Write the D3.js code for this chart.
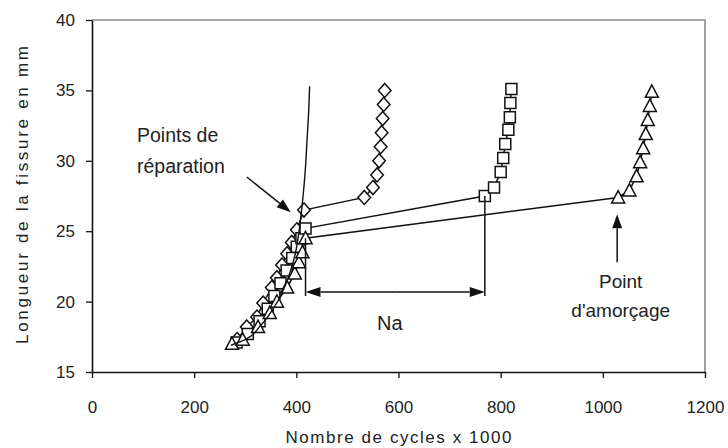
<!DOCTYPE html>
<html>
<head>
<meta charset="utf-8">
<script src="https://cdn.jsdelivr.net/npm/d3@7"></script>
<style>
  body { margin: 0; background: #fff; }
  text { font-family: "Liberation Sans", Arial, sans-serif; fill: #222; }
</style>
</head>
<body>
<svg id="chart" width="728" height="448"></svg>
<script>
// Axis ticks
const xTicks = [0, 200, 400, 600, 800, 1000, 1200];
const yTicks = [15, 20, 25, 30, 35, 40];

// Specimen 1 (diamonds): cycles x1000 and crack length in mm
const diamondCycles  = [284, 303, 323, 335, 352, 362, 372, 382, 391, 401, 415, 533, 550, 558, 562, 565, 567, 569, 571, 573];
const diamondLengths = [17.3, 18.2, 18.9, 19.9, 21.0, 21.7, 22.6, 23.4, 24.2, 25.1, 26.5, 27.4, 28.1, 29.0, 30.0, 31.0, 32.0, 33.0, 34.0, 35.0];

// Specimen 2 (squares)
const squareCycles  = [283, 305, 328, 344, 357, 369, 381, 392, 401, 410, 418, 769, 787, 800, 805, 809, 815, 818, 819, 821];
const squareLengths = [17.1, 17.7, 18.6, 19.5, 20.4, 21.3, 22.2, 23.1, 23.9, 24.5, 25.2, 27.5, 28.1, 29.2, 30.2, 31.2, 32.2, 33.1, 34.1, 35.1];

// Specimen 3 (triangles)
const triangleCycles  = [274, 295, 325, 348, 362, 382, 397, 405, 412, 418, 1030, 1052, 1066, 1073, 1079, 1084, 1088, 1092, 1096];
const triangleLengths = [17.0, 17.3, 18.2, 19.2, 20.0, 21.0, 22.0, 22.8, 23.5, 24.5, 27.4, 27.9, 28.9, 29.9, 30.9, 31.9, 32.9, 33.9, 34.9];

// Growth curve without repair
const curveCycles  = [272, 300, 330, 355, 373, 387, 398, 405, 410, 414, 418, 421, 424, 426];
const curveLengths = [16.9, 17.3, 18.3, 19.5, 20.7, 22.0, 23.4, 24.9, 26.4, 27.8, 29.6, 31.5, 33.4, 35.3];

const svg = d3.select("#chart");
const W = 728, H = 448;
const m = { left: 92, right: 23, top: 20, bottom: 76 };

const x = d3.scaleLinear().domain([0, 1200]).range([m.left, W - m.right]);
const y = d3.scaleLinear().domain([15, 40]).range([H - m.bottom, m.top]);

// Plot frame: top and right edges in grey
svg.append("path")
  .attr("d", `M${x(0)},${y(40)}H${x(1200)}V${y(15)}`)
  .attr("fill", "none").attr("stroke", "#8a8a8a").attr("stroke-width", 1.6);

// Axes
const gx = svg.append("g").attr("transform", `translate(0,${y(15)})`)
  .call(d3.axisBottom(x).tickValues(xTicks).tickFormat(d3.format("d"))
    .tickSize(6).tickSizeOuter(0).tickPadding(23));
const gy = svg.append("g").attr("transform", `translate(${x(0)},0)`)
  .call(d3.axisLeft(y).tickValues(yTicks).tickFormat(d3.format("d"))
    .tickSize(6).tickSizeOuter(0).tickPadding(11));
[gx, gy].forEach(g => {
  g.select(".domain").attr("stroke", "#111").attr("stroke-width", 1.6);
  g.selectAll(".tick line").attr("stroke", "#111").attr("stroke-width", 1.3);
  g.selectAll(".tick text").attr("font-size", 17).attr("fill", "#222")
    .attr("font-family", "Liberation Sans, Arial, sans-serif");
});

// Axis titles
svg.append("text")
  .attr("x", (x(0) + x(1200)) / 2).attr("y", 443)
  .attr("text-anchor", "middle").attr("font-size", 17)
  .attr("textLength", 226).attr("lengthAdjust", "spacing")
  .text("Nombre de cycles x 1000");
svg.append("text")
  .attr("transform", `translate(28,${(y(15) + y(40)) / 2 - 1}) rotate(-90)`)
  .attr("text-anchor", "middle").attr("font-size", 17)
  .attr("textLength", 298).attr("lengthAdjust", "spacing")
  .text("Longueur de la fissure en mm");

// Marker shapes
const diamond = { draw(ctx, size) { const r = Math.sqrt(size) / 2;
  ctx.moveTo(0, -r); ctx.lineTo(r * 0.9, 0); ctx.lineTo(0, r); ctx.lineTo(-r * 0.9, 0); ctx.closePath(); } };
const triangle = { draw(ctx, size) { const r = Math.sqrt(size) / 2;
  ctx.moveTo(0, -r * 1.05); ctx.lineTo(r, r * 0.85); ctx.lineTo(-r, r * 0.85); ctx.closePath(); } };

const series = [
  { cycles: diamondCycles, lengths: diamondLengths, type: diamond, size: 196 },
  { cycles: squareCycles, lengths: squareLengths, type: d3.symbolSquare, size: 121 },
  { cycles: triangleCycles, lengths: triangleLengths, type: triangle, size: 169 }
];

const line = d3.line().x(d => x(d[0])).y(d => y(d[1]));

series.forEach(s => {
  const pts = s.cycles.map((c, i) => [c, s.lengths[i]]);
  svg.append("path").datum(pts).attr("d", line)
    .attr("fill", "none").attr("stroke", "#111").attr("stroke-width", 1.5);
});
series.forEach(s => {
  const pts = s.cycles.map((c, i) => [c, s.lengths[i]]);
  svg.append("g").selectAll("path").data(pts).join("path")
    .attr("transform", d => `translate(${x(d[0])},${y(d[1])})`)
    .attr("d", d3.symbol().type(s.type).size(s.size))
    .attr("fill", "#fff").attr("stroke", "#111").attr("stroke-width", 1.5);
});

// Growth curve drawn over the markers
svg.append("path")
  .datum(curveCycles.map((c, i) => [c, curveLengths[i]]))
  .attr("d", d3.line().x(d => x(d[0])).y(d => y(d[1])).curve(d3.curveMonotoneY))
  .attr("fill", "none").attr("stroke", "#111").attr("stroke-width", 1.4);

// Arrow helper: line from (x1,y1) to (x2,y2) with filled head at the end
function arrow(x1, y1, x2, y2, len = 14, half = 5) {
  const a = Math.atan2(y2 - y1, x2 - x1);
  const bx = x2 - len * Math.cos(a), by = y2 - len * Math.sin(a);
  svg.append("line").attr("x1", x1).attr("y1", y1).attr("x2", bx).attr("y2", by)
    .attr("stroke", "#111").attr("stroke-width", 1.5);
  const px = -Math.sin(a) * half, py = Math.cos(a) * half;
  svg.append("path")
    .attr("d", `M${x2},${y2}L${bx + px},${by + py}L${bx - px},${by - py}Z`)
    .attr("fill", "#111");
}

// Repair-point annotation
svg.append("text").attr("x", x(88)).attr("y", y(31.33)).attr("font-size", 19.5).text("Points de");
svg.append("text").attr("x", x(88)).attr("y", y(29.1)).attr("font-size", 19.5).text("réparation");
arrow(x(303), y(28.85), x(389), y(26.35), 14, 5);

// Crack re-initiation annotation
const initCycles = triangleCycles[10];
arrow(x(initCycles) - 1, y(22.8), x(initCycles) - 1, y(26.2), 14, 5);
svg.append("text").attr("x", x(1035)).attr("y", y(20.97)).attr("text-anchor", "middle")
  .attr("font-size", 19).text("Point");
svg.append("text").attr("x", x(1035)).attr("y", y(18.9)).attr("text-anchor", "middle")
  .attr("font-size", 19).text("d'amorçage");

// Na: cycles between repair and re-initiation of specimen 2
const naStart = squareCycles[10], naEnd = squareCycles[11];
const naY = y(20.68);
svg.append("line").attr("x1", x(naStart)).attr("x2", x(naStart))
  .attr("y1", y(triangleLengths[9])).attr("y2", naY + 4)
  .attr("stroke", "#111").attr("stroke-width", 1.5);
svg.append("line").attr("x1", x(naEnd)).attr("x2", x(naEnd))
  .attr("y1", y(squareLengths[11])).attr("y2", naY + 4)
  .attr("stroke", "#111").attr("stroke-width", 1.5);
const mid = (x(naStart) + x(naEnd)) / 2;
arrow(mid, naY, x(naStart), naY, 15, 5);
arrow(mid, naY, x(naEnd), naY, 15, 5);
svg.append("text").attr("x", x(583)).attr("y", y(18.0)).attr("text-anchor", "middle")
  .attr("font-size", 20).text("Na");
</script>
</body>
</html>
